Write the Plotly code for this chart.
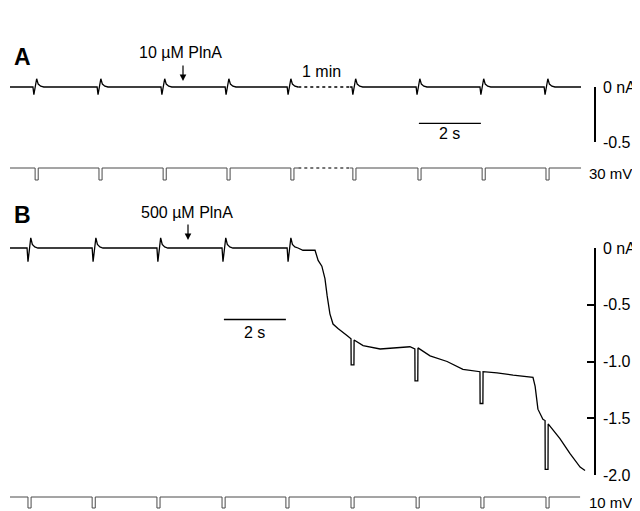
import plotly.graph_objects as go

W, H = 632, 503
OFF = 8   # page body margin in the viewer; content is placed relative to the window
FONT = "Liberation Sans, Arial, sans-serif"

# ---------------- data (time in s, current in nA, voltage in mV) ----------------
# Panel A: current trace (10 uM PlnA), baseline 0 nA
A_CUR_PULSE_T = [0.74, 2.81, 4.87, 6.94, 8.94, 11.03, 13.10, 15.16, 17.23]
A_DIP = 0.07
A_SPIKE = 0.075
A_START, A_END = 0.0, 18.42
A_GAP = [9.30, 10.97]          # "1 min" break shown dotted

# Panel A: voltage command trace
A_V_PULSE_T = [0.81, 2.87, 4.94, 7.00, 9.06, 11.06, 13.16, 15.23, 17.29]
V_PULSE_AMP = -10.0
V_PULSE_W = 0.10

# Panel B: current trace (500 uM PlnA)
B_CUR_PULSE_T = [0.55, 2.65, 4.74, 6.84, 8.94]
B_DIP = 0.12
B_SPIKE = 0.09
B_START = 0.0
# declining current after PlnA (time, nA)
B_DECLINE_T = [9.45, 9.84, 9.94, 10.06, 10.16, 10.23, 10.32, 10.42, 10.58, 10.87,
               11.39, 11.94, 12.48, 12.90, 13.55, 14.10, 14.61, 15.71, 16.23,
               16.87, 16.94, 17.03, 17.19, 17.74, 18.06, 18.39, 18.55]
B_DECLINE_I = [-0.02, -0.02, -0.11, -0.16, -0.27, -0.42, -0.58, -0.67, -0.71, -0.77,
               -0.86, -0.89, -0.88, -0.87, -0.95, -1.00, -1.07, -1.10, -1.12,
               -1.14, -1.22, -1.42, -1.51, -1.68, -1.81, -1.93, -1.96]
# step responses riding on the decline
B_STEP_T = [11.00, 13.06, 15.16, 17.26]
B_STEP_BEFORE = [-0.80, -0.89, -1.09, -1.52]
B_STEP_BOTTOM = [-1.03, -1.17, -1.37, -1.95]
B_STEP_AFTER = [-0.81, -0.88, -1.09, -1.55]

# Panel B: voltage command trace
B_V_PULSE_T = [0.58, 2.65, 4.74, 6.84, 8.90, 11.00, 13.10, 15.19, 17.29]
B_V_END = 18.39

# capacitive transient template (time offsets, relative shape)
TR_DT = [0.0, 0.03, 0.12, 0.17, 0.25, 0.35]
TR_SHAPE = [0.0, -1.0, 1.0, 0.35, 0.1, 0.0]

# scale bars
SB_A = dict(t0=13.19, dur=2.0, y=-0.33)
SB_B = dict(t0=6.90, dur=2.0, y=-0.63)

# ---------------- helpers (page pixel -> figure coordinates) ----------------
def page_to_t(px):
    return (px - 10) / 31.0


def paper_y(py):
    return 1 - (py - OFF) / H


def paper_x(px):
    return (px - OFF) / W


def yaxis_cfg(v_a, px_a, v_b, px_b, px_top, px_bot):
    k = (px_b - px_a) / (v_b - v_a)
    val = lambda p: v_a + (p - px_a) / k
    top = max(px_top, OFF)
    bot = min(px_bot, H + OFF)
    return dict(domain=[paper_y(bot), paper_y(top)], range=[val(bot), val(top)])


def transients(times, dip, spike, base=0.0):
    xs, ys = [], []
    for tp in times:
        for dt, s in zip(TR_DT, TR_SHAPE):
            xs.append(tp + dt)
            ys.append(base + (s * dip if s < 0 else s * spike))
    return xs, ys


def v_pulses(times):
    xs, ys = [], []
    for tp in times:
        xs += [tp, tp, tp + V_PULSE_W, tp + V_PULSE_W]
        ys += [0, V_PULSE_AMP, V_PULSE_AMP, 0]
    return xs, ys


def split_gap(xs, ys, start, end, gap):
    x1 = [start] + [x for x in xs if x < gap[0]] + [gap[0]]
    y1 = [0.0] + [y for x, y in zip(xs, ys) if x < gap[0]] + [0.0]
    x2 = [gap[1]] + [x for x in xs if x > gap[1]] + [end]
    y2 = [0.0] + [y for x, y in zip(xs, ys) if x > gap[1]] + [0.0]
    return (x1, y1), (x2, y2)


fig = go.Figure()
CUR = dict(color="black", width=1.3)
VOL = dict(color="#4a4a4a", width=1.0)

# ---- Panel A current ----
txA, tyA = transients(A_CUR_PULSE_T, A_DIP, A_SPIKE)
for sx, sy in split_gap(txA, tyA, A_START, A_END, A_GAP):
    fig.add_trace(go.Scatter(x=sx, y=sy, mode="lines", line=CUR, yaxis="y"))
fig.add_trace(go.Scatter(x=A_GAP, y=[0, 0], mode="lines",
                         line=dict(color="black", width=1.3, dash="dot"), yaxis="y"))
fig.add_trace(go.Scatter(x=[SB_A["t0"], SB_A["t0"] + SB_A["dur"]], y=[SB_A["y"]] * 2,
                         mode="lines", line=dict(color="black", width=1.3), yaxis="y"))

# ---- Panel A voltage ----
vxA, vyA = v_pulses(A_V_PULSE_T)
for sx, sy in split_gap(vxA, vyA, A_START, A_END, A_GAP):
    fig.add_trace(go.Scatter(x=sx, y=sy, mode="lines", line=VOL, yaxis="y2"))
fig.add_trace(go.Scatter(x=A_GAP, y=[0, 0], mode="lines",
                         line=dict(color="#4a4a4a", width=1.3, dash="dot"), yaxis="y2"))

# ---- Panel B current ----
txB, tyB = transients(B_CUR_PULSE_T, B_DIP, B_SPIKE)
pts = list(zip([B_START] + txB, [0.0] + tyB))
pts += list(zip(B_DECLINE_T, B_DECLINE_I))
for tp, vb, vbot, va in zip(B_STEP_T, B_STEP_BEFORE, B_STEP_BOTTOM, B_STEP_AFTER):
    pts += [(tp, vb), (tp + 0.005, vbot), (tp + V_PULSE_W - 0.005, vbot), (tp + V_PULSE_W, va)]
pts.sort(key=lambda p: p[0])
fig.add_trace(go.Scatter(x=[p[0] for p in pts], y=[p[1] for p in pts], mode="lines",
                         line=CUR, yaxis="y3"))
fig.add_trace(go.Scatter(x=[SB_B["t0"], SB_B["t0"] + SB_B["dur"]], y=[SB_B["y"]] * 2,
                         mode="lines", line=dict(color="black", width=1.3), yaxis="y3"))

# ---- Panel B voltage ----
vxB, vyB = v_pulses(B_V_PULSE_T)
fig.add_trace(go.Scatter(x=[B_START] + vxB + [B_V_END], y=[0.0] + vyB + [0.0],
                         mode="lines", line=VOL, yaxis="y4"))

# dummy traces for calibration axes
fig.add_trace(go.Scatter(x=[None], y=[None], yaxis="y5"))
fig.add_trace(go.Scatter(x=[None], y=[None], yaxis="y6"))

hidden = dict(visible=False, showgrid=False, zeroline=False, fixedrange=True,
              automargin=False)
cal = dict(anchor="free", side="right", position=paper_x(595), showline=True,
           linecolor="black", linewidth=1.5, ticks="inside", tickcolor="black",
           tickwidth=1.5, showgrid=False, zeroline=False, automargin=False,
           tickfont=dict(family=FONT, size=16, color="black"),
           ticklabelstandoff=4)

fig.update_layout(
    template="none",
    width=W, height=H, margin=dict(l=0, r=0, t=0, b=0, pad=0, autoexpand=False),
    paper_bgcolor="white", plot_bgcolor="rgba(0,0,0,0)",
    showlegend=False,
    xaxis=dict(range=[page_to_t(OFF), page_to_t(W + OFF)], domain=[0, 1], **hidden),
    yaxis=dict(**yaxis_cfg(0, 87, -0.5, 142, 30, 150), **hidden),
    yaxis2=dict(**yaxis_cfg(0, 168, -10, 180, 155, 190), **hidden),
    yaxis3=dict(**yaxis_cfg(0, 248, -2.0, 475, 200, 495), **hidden),
    yaxis4=dict(**yaxis_cfg(0, 497, -10, 508, 486, 520), **hidden),
    yaxis5=dict(**yaxis_cfg(0, 87, -0.5, 142, 87, 142), tickvals=[0, -0.5],
                ticktext=["0 nA", "-0.5"], ticklen=5, **cal),
    yaxis6=dict(**yaxis_cfg(0, 248, -2.0, 475, 248, 475),
                tickvals=[0, -0.5, -1.0, -1.5, -2.0],
                ticktext=["0 nA", "-0.5", "-1.0", "-1.5", "-2.0"], ticklen=7, **cal),
)


def ann(text, px, py, xanchor="center", size=16, bold=False):
    fig.add_annotation(text=f"<b>{text}</b>" if bold else text,
                       x=paper_x(px), y=paper_y(py), xref="paper", yref="paper",
                       xanchor=xanchor, yanchor="middle", showarrow=False,
                       font=dict(family=FONT, size=size, color="black"))


ann("A", 12, 57, xanchor="left", size=23, bold=True)
ann("B", 12, 215, xanchor="left", size=23, bold=True)
ann("10 µM PlnA", 180, 52)
ann("500 µM PlnA", 187, 212)
ann("1 min", 321, 72)
ann("2 s", 450, 134)
ann("2 s", 254, 332)
ann("30 mV", 587, 173, xanchor="left", size=15)
ann("10 mV", 587, 502, xanchor="left", size=15)

for px, tip, tail in [(183, 81, 64), (188, 240, 223)]:
    fig.add_annotation(text="", x=paper_x(px), y=paper_y(tip), xref="paper", yref="paper",
                       showarrow=True, ax=0, ay=-(tip - tail), arrowhead=2,
                       arrowsize=1.1, arrowwidth=1.2, arrowcolor="black")

fig.write_html("out.html")
